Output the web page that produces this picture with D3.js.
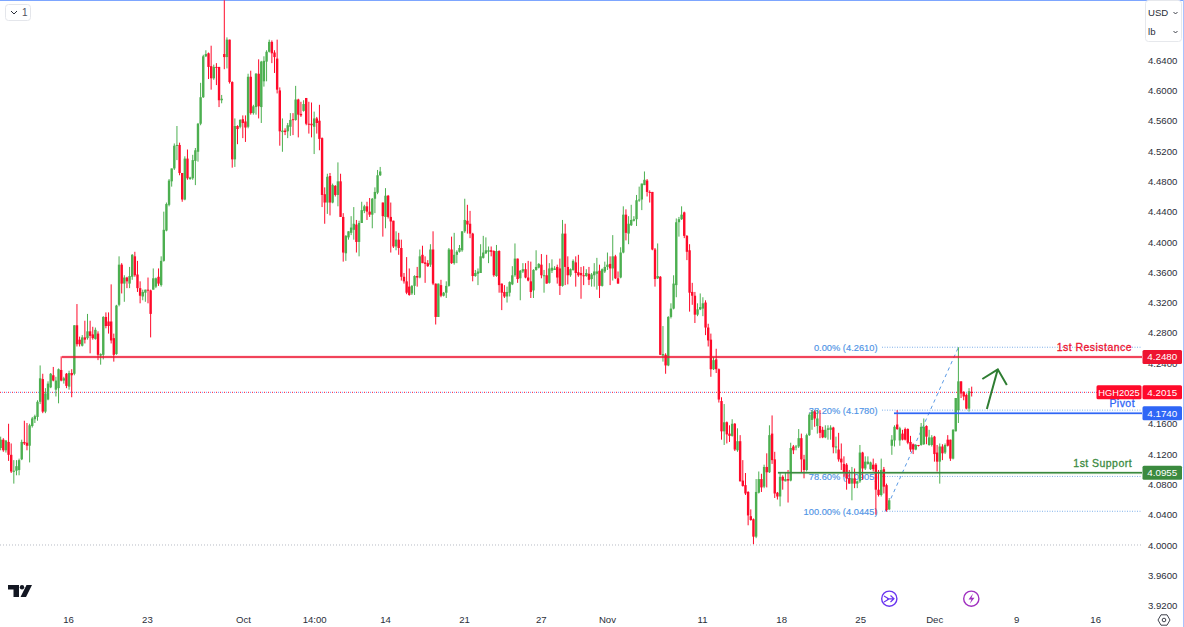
<!DOCTYPE html>
<html>
<head>
<meta charset="utf-8">
<script src="https://cdn.jsdelivr.net/npm/d3@7"></script>
<style>
html, body { margin: 0; padding: 0; background: #fff; }
svg { display: block; font-family: "Liberation Sans", Arial, sans-serif; }
</style>
</head>
<body>
<div id="chart"></div>
<script>
// HGH2025 candles
const open = [
4.128,4.139,4.125,4.136,4.119,4.097,4.098,4.099,4.113,4.136,
4.135,4.131,4.157,4.166,4.169,4.189,4.219,4.176,4.192,4.208,
4.224,4.205,4.207,4.231,4.217,4.226,4.209,4.227,4.226,4.290,
4.271,4.263,4.274,4.273,4.282,4.278,4.272,4.279,4.250,4.251,
4.301,4.295,4.295,4.273,4.252,4.317,4.370,4.345,4.353,4.345,
4.354,4.381,4.357,4.339,4.328,4.333,4.337,4.336,4.337,4.341,
4.354,4.343,4.375,4.415,4.449,4.480,4.497,4.527,4.528,4.491,
4.456,4.510,4.483,4.484,4.507,4.519,4.556,4.591,4.645,4.649,
4.632,4.616,4.631,4.631,4.587,4.648,4.644,4.667,4.611,4.509,
4.553,4.552,4.562,4.559,4.552,4.618,4.570,4.578,4.622,4.578,
4.612,4.638,4.651,4.664,4.650,4.642,4.600,4.545,4.547,4.546,
4.552,4.562,4.561,4.588,4.569,4.573,4.590,4.556,4.556,4.552,
4.563,4.560,4.537,4.463,4.452,4.487,4.452,4.474,4.462,4.480,
4.433,4.385,4.406,4.412,4.416,4.423,4.400,4.425,4.441,4.447,
4.440,4.436,4.457,4.465,4.488,4.452,4.433,4.461,4.433,4.428,
4.394,4.403,4.392,4.354,4.348,4.341,4.332,4.342,4.355,4.353,
4.383,4.373,4.372,4.370,4.390,4.345,4.301,4.343,4.329,4.333,
4.342,4.390,4.372,4.383,4.387,4.389,4.414,4.428,4.424,4.411,
4.355,4.358,4.359,4.379,4.385,4.387,4.389,4.388,4.355,4.388,
4.345,4.334,4.328,4.333,4.344,4.356,4.378,4.352,4.361,4.364,
4.353,4.348,4.336,4.363,4.366,4.370,4.355,4.356,4.346,4.362,
4.363,4.367,4.365,4.342,4.411,4.367,4.356,4.363,4.373,4.360,
4.359,4.356,4.355,4.358,4.351,4.356,4.358,4.362,4.342,4.361,
4.367,4.371,4.365,4.381,4.352,4.353,4.386,4.436,4.411,4.422,
4.428,4.430,4.455,4.456,4.475,4.481,4.466,4.466,4.390,4.352,
4.354,4.250,4.251,4.237,4.301,4.312,4.343,4.426,4.430,4.439,
4.408,4.389,4.334,4.329,4.304,4.311,4.312,4.320,4.287,4.271,
4.232,4.245,4.232,4.190,4.150,4.162,4.147,4.144,4.160,4.125,
4.137,4.085,4.079,4.070,4.038,4.034,4.011,4.069,4.087,4.077,
4.103,4.096,4.147,4.113,4.069,4.064,4.090,4.084,4.087,4.085,
4.130,4.129,4.130,4.141,4.113,4.099,4.145,4.165,4.176,4.157,
4.157,4.152,4.142,4.152,4.152,4.155,4.129,4.126,4.114,4.107,
4.106,4.088,4.081,4.088,4.081,4.084,4.122,4.101,4.107,4.100,
4.106,4.106,4.073,4.066,4.100,4.079,4.047,4.131,4.138,4.159,
4.138,4.147,4.153,4.153,4.136,4.133,4.126,4.132,4.132,4.133,
4.157,4.132,4.132,4.143,4.122,4.110,4.130,4.122,4.139,4.139,
4.114,4.150,4.178,4.216,4.202,4.198,4.180,4.202
];
const high = [
4.143,4.141,4.138,4.160,4.134,4.112,4.112,4.114,4.139,4.164,
4.161,4.160,4.169,4.172,4.191,4.237,4.226,4.207,4.216,4.227,
4.235,4.222,4.233,4.249,4.222,4.227,4.230,4.232,4.290,4.318,
4.275,4.277,4.296,4.305,4.296,4.288,4.287,4.282,4.253,4.302,
4.307,4.307,4.344,4.279,4.317,4.381,4.372,4.356,4.354,4.367,
4.384,4.387,4.375,4.348,4.337,4.337,4.353,4.337,4.365,4.353,
4.365,4.381,4.440,4.452,4.483,4.497,4.530,4.553,4.531,4.491,
4.513,4.522,4.486,4.515,4.524,4.557,4.610,4.647,4.653,4.650,
4.659,4.634,4.636,4.631,4.594,4.719,4.670,4.667,4.612,4.563,
4.554,4.562,4.567,4.567,4.622,4.626,4.581,4.623,4.641,4.639,
4.645,4.653,4.667,4.666,4.653,4.667,4.604,4.563,4.550,4.557,
4.570,4.570,4.606,4.589,4.585,4.587,4.590,4.585,4.584,4.572,
4.565,4.581,4.538,4.472,4.490,4.491,4.477,4.475,4.505,4.490,
4.438,4.409,4.414,4.434,4.446,4.429,4.428,4.453,4.449,4.453,
4.458,4.458,4.472,4.495,4.499,4.452,4.471,4.462,4.452,4.428,
4.414,4.412,4.403,4.359,4.380,4.365,4.343,4.356,4.367,4.390,
4.395,4.381,4.376,4.397,4.414,4.345,4.345,4.350,4.334,4.348,
4.392,4.407,4.412,4.389,4.396,4.414,4.457,4.449,4.441,4.412,
4.363,4.365,4.397,4.408,4.406,4.394,4.394,4.389,4.396,4.389,
4.345,4.343,4.341,4.348,4.368,4.398,4.378,4.363,4.372,4.372,
4.375,4.374,4.364,4.389,4.372,4.384,4.363,4.383,4.372,4.377,
4.368,4.370,4.378,4.429,4.424,4.381,4.365,4.377,4.381,4.383,
4.367,4.368,4.364,4.367,4.359,4.372,4.379,4.370,4.365,4.374,
4.386,4.381,4.409,4.383,4.361,4.393,4.447,4.443,4.434,4.449,
4.434,4.462,4.473,4.477,4.493,4.483,4.468,4.466,4.392,4.398,
4.355,4.289,4.253,4.302,4.319,4.356,4.431,4.433,4.447,4.440,
4.409,4.397,4.346,4.334,4.319,4.332,4.327,4.323,4.292,4.279,
4.248,4.259,4.233,4.195,4.186,4.163,4.158,4.166,4.161,4.154,
4.145,4.112,4.095,4.071,4.047,4.035,4.087,4.097,4.094,4.106,
4.121,4.158,4.171,4.123,4.070,4.096,4.092,4.095,4.099,4.135,
4.132,4.132,4.153,4.147,4.119,4.147,4.174,4.178,4.178,4.178,
4.178,4.156,4.158,4.158,4.158,4.156,4.143,4.148,4.134,4.117,
4.108,4.099,4.103,4.101,4.085,4.132,4.123,4.117,4.117,4.110,
4.114,4.108,4.099,4.114,4.103,4.081,4.062,4.145,4.158,4.178,
4.156,4.152,4.155,4.154,4.144,4.134,4.133,4.132,4.161,4.167,
4.158,4.152,4.145,4.144,4.132,4.134,4.133,4.134,4.145,4.139,
4.153,4.194,4.261,4.216,4.203,4.200,4.207,4.209
];
const low = [
4.125,4.123,4.122,4.111,4.095,4.081,4.092,4.092,4.112,4.132,
4.125,4.109,4.155,4.161,4.164,4.186,4.174,4.174,4.191,4.207,
4.216,4.196,4.187,4.216,4.213,4.207,4.205,4.195,4.224,4.262,
4.262,4.262,4.266,4.271,4.253,4.271,4.271,4.244,4.238,4.245,
4.286,4.279,4.266,4.242,4.251,4.315,4.332,4.321,4.339,4.339,
4.350,4.354,4.334,4.319,4.323,4.321,4.319,4.274,4.337,4.339,
4.342,4.341,4.374,4.414,4.447,4.473,4.495,4.508,4.488,4.453,
4.455,4.482,4.482,4.482,4.475,4.506,4.554,4.590,4.644,4.615,
4.601,4.614,4.607,4.578,4.583,4.628,4.629,4.609,4.498,4.499,
4.529,4.550,4.537,4.532,4.550,4.568,4.568,4.568,4.563,4.557,
4.605,4.612,4.650,4.636,4.623,4.596,4.527,4.519,4.541,4.537,
4.540,4.541,4.560,4.538,4.565,4.572,4.554,4.543,4.538,4.516,
4.543,4.521,4.446,4.424,4.437,4.435,4.451,4.460,4.447,4.433,
4.374,4.375,4.403,4.409,4.403,4.386,4.381,4.425,4.438,4.429,
4.433,4.418,4.438,4.463,4.487,4.407,4.418,4.431,4.386,4.392,
4.389,4.383,4.349,4.345,4.331,4.329,4.330,4.330,4.341,4.352,
4.372,4.346,4.367,4.367,4.343,4.291,4.301,4.327,4.328,4.326,
4.341,4.371,4.370,4.372,4.386,4.387,4.412,4.411,4.405,4.348,
4.354,4.343,4.359,4.378,4.384,4.372,4.381,4.354,4.354,4.333,
4.310,4.326,4.320,4.328,4.343,4.354,4.346,4.323,4.359,4.352,
4.348,4.326,4.326,4.362,4.365,4.352,4.333,4.345,4.345,4.359,
4.363,4.345,4.330,4.341,4.343,4.344,4.354,4.362,4.341,4.354,
4.325,4.343,4.354,4.343,4.341,4.341,4.337,4.326,4.341,4.359,
4.363,4.343,4.349,4.351,4.345,4.352,4.385,4.402,4.397,4.421,
4.427,4.421,4.453,4.442,4.475,4.460,4.452,4.389,4.341,4.351,
4.251,4.242,4.226,4.236,4.299,4.311,4.327,4.407,4.429,4.405,
4.376,4.308,4.317,4.293,4.302,4.310,4.302,4.277,4.262,4.222,
4.231,4.227,4.188,4.139,4.132,4.134,4.136,4.143,4.124,4.123,
4.084,4.077,4.066,4.026,4.032,4.001,4.009,4.068,4.070,4.075,
4.076,4.095,4.107,4.062,4.060,4.051,4.073,4.084,4.056,4.084,
4.120,4.125,4.128,4.095,4.088,4.097,4.144,4.152,4.156,4.147,
4.141,4.141,4.141,4.139,4.139,4.121,4.121,4.110,4.099,4.090,
4.073,4.081,4.059,4.075,4.075,4.082,4.086,4.099,4.106,4.099,
4.097,4.040,4.064,4.064,4.068,4.044,4.046,4.119,4.130,4.152,
4.131,4.138,4.138,4.133,4.123,4.120,4.125,4.130,4.131,4.132,
4.133,4.131,4.130,4.110,4.097,4.081,4.112,4.120,4.130,4.111,
4.113,4.150,4.161,4.194,4.191,4.179,4.176,4.196
];
const close = [
4.139,4.125,4.138,4.119,4.097,4.098,4.104,4.112,4.136,4.134,
4.131,4.158,4.167,4.170,4.189,4.220,4.176,4.200,4.213,4.226,
4.217,4.217,4.232,4.217,4.220,4.210,4.227,4.224,4.290,4.265,
4.265,4.274,4.271,4.282,4.276,4.273,4.284,4.251,4.252,4.301,
4.289,4.289,4.270,4.251,4.316,4.370,4.345,4.353,4.348,4.355,
4.383,4.356,4.339,4.329,4.334,4.337,4.336,4.305,4.352,4.352,
4.345,4.375,4.416,4.450,4.481,4.497,4.527,4.528,4.491,4.456,
4.510,4.484,4.485,4.508,4.521,4.556,4.591,4.645,4.648,4.631,
4.616,4.631,4.630,4.587,4.589,4.644,4.667,4.611,4.509,4.553,
4.549,4.561,4.557,4.551,4.618,4.570,4.579,4.622,4.579,4.638,
4.639,4.651,4.664,4.649,4.644,4.601,4.546,4.547,4.545,4.554,
4.561,4.561,4.588,4.568,4.567,4.582,4.556,4.555,4.554,4.563,
4.557,4.536,4.462,4.452,4.486,4.452,4.475,4.462,4.480,4.433,
4.386,4.408,4.414,4.419,4.424,4.400,4.425,4.442,4.447,4.440,
4.436,4.457,4.466,4.488,4.493,4.434,4.461,4.433,4.427,4.394,
4.403,4.392,4.354,4.348,4.333,4.330,4.342,4.355,4.353,4.381,
4.372,4.371,4.368,4.390,4.345,4.301,4.345,4.329,4.333,4.342,
4.390,4.372,4.383,4.387,4.392,4.414,4.429,4.423,4.411,4.355,
4.359,4.361,4.381,4.386,4.389,4.389,4.387,4.356,4.388,4.343,
4.333,4.328,4.334,4.347,4.356,4.378,4.351,4.362,4.364,4.353,
4.349,4.334,4.363,4.367,4.371,4.356,4.356,4.345,4.365,4.366,
4.365,4.353,4.342,4.411,4.367,4.356,4.364,4.375,4.359,4.356,
4.356,4.355,4.359,4.350,4.357,4.361,4.361,4.342,4.364,4.367,
4.370,4.365,4.381,4.352,4.345,4.386,4.436,4.412,4.424,4.429,
4.430,4.455,4.456,4.477,4.482,4.466,4.465,4.390,4.351,4.355,
4.251,4.252,4.237,4.301,4.312,4.345,4.426,4.430,4.436,4.408,
4.387,4.333,4.329,4.304,4.311,4.314,4.319,4.287,4.270,4.232,
4.244,4.232,4.192,4.150,4.162,4.146,4.144,4.160,4.126,4.137,
4.084,4.078,4.068,4.039,4.033,4.011,4.070,4.087,4.076,4.103,
4.096,4.145,4.112,4.068,4.064,4.090,4.085,4.087,4.085,4.128,
4.125,4.130,4.141,4.113,4.099,4.145,4.172,4.176,4.167,4.167,
4.148,4.142,4.152,4.154,4.155,4.129,4.130,4.113,4.109,4.095,
4.088,4.081,4.088,4.081,4.084,4.122,4.101,4.110,4.110,4.109,
4.100,4.073,4.066,4.099,4.077,4.046,4.059,4.139,4.156,4.153,
4.154,4.139,4.139,4.135,4.126,4.126,4.132,4.131,4.156,4.156,
4.143,4.142,4.142,4.120,4.110,4.130,4.121,4.132,4.131,4.114,
4.152,4.194,4.216,4.200,4.196,4.180,4.203,4.2015
];

const priceTicks = [3.92,3.96,4.00,4.04,4.08,4.12,4.16,4.20,4.24,4.28,4.32,4.36,4.40,4.44,4.48,4.52,4.56,4.60,4.64];
const dateTicks = ["16","23","Oct","14:00","14","21","27","Nov","11","18","25","Dec","9","16"];
const dateTickBars = [25.6,55.6,92.1,119,145.8,175.7,204.8,229.8,265.7,295.4,325.1,352.9,383.7,413.4];

const levelNames = ["1st Resistance","Pivot","1st Support"];
const levelPrices = [4.2480,4.1740,4.0955];
const levelStartBars = [23.3,337.8,294.2];

const fibNames = ["0.00%","38.20%","78.60%","100.00%"];
const fibPrices = [4.2610,4.1780,4.0905,4.0445];

const lastPrice = 4.2015;
const symbol = "HGH2025";

const width = 1184, height = 627;
const plotRight = 1142;
const levelColors = ["#ee1430","#2f66f6","#3b8a3f"];
const up = "#4caf50", down = "#ff0a2a", fibBlue = "#4f94e6";

// bars are not quite evenly spaced in the picture, weekend gaps eat a bit
const x = d3.scaleLinear().domain([0, 85, 250, 367]).range([0.67, 224.3, 660.3, 971.7]);
const y = d3.scaleLinear().domain([3.92, 4.64]).range([605.6, 60.1]);

const svg = d3.select("#chart").append("svg")
    .attr("width", width)
    .attr("height", height);

svg.append("rect").attr("width", width).attr("height", height).attr("fill", "#fff");

// frame, the screenshot has a blue edge on top and right
svg.append("line").attr("x1", 0).attr("x2", width).attr("y1", 0.5).attr("y2", 0.5)
    .attr("stroke", "#7da6ff");
svg.append("line").attr("x1", 1183.5).attr("x2", 1183.5).attr("y1", 0).attr("y2", height)
    .attr("stroke", "#a9c3ff");

// 4.0000 dotted line
svg.append("line")
    .attr("x1", 0).attr("x2", plotRight)
    .attr("y1", y(4)).attr("y2", y(4))
    .attr("stroke", "#b8bcc4")
    .attr("stroke-dasharray", "1 2");

// last price line
svg.append("line")
    .attr("x1", 0).attr("x2", 1097)
    .attr("y1", y(lastPrice)).attr("y2", y(lastPrice))
    .attr("stroke", "#6f8df0")
    .attr("stroke-dasharray", "1 3")
    .attr("stroke-dashoffset", 2);
svg.append("line")
    .attr("x1", 0).attr("x2", 1097)
    .attr("y1", y(lastPrice)).attr("y2", y(lastPrice))
    .attr("stroke", down)
    .attr("stroke-dasharray", "1 3");

// fib lines and labels, candles go over them
svg.selectAll(".fib-line")
    .data(fibPrices)
    .enter()
    .append("line")
    .attr("class", "fib-line")
    .attr("x1", 882).attr("x2", plotRight)
    .attr("y1", d => y(d)).attr("y2", d => y(d))
    .attr("stroke", "#7fb0ea")
    .attr("stroke-dasharray", "1 1.5");

svg.selectAll(".fib-label")
    .data(fibPrices)
    .enter()
    .append("text")
    .attr("class", "fib-label")
    .attr("x", 877.5)
    .attr("y", d => y(d) + 3.7)
    .attr("text-anchor", "end")
    .attr("fill", fibBlue)
    .attr("stroke", fibBlue)
    .attr("stroke-width", 0.15)
    .style("font-size", "9.3px")
    .text((d, i) => `${fibNames[i]} (${d.toFixed(4)})`);

// fib trend line
svg.append("line")
    .attr("x1", x(334.5)).attr("y1", y(fibPrices[3]))
    .attr("x2", x(362)).attr("y2", y(fibPrices[0]))
    .attr("stroke", "#5a9ae6")
    .attr("stroke-dasharray", "3.5 3.5");

// candles
const bars = d3.range(open.length);

svg.append("g").selectAll("line")
    .data(bars)
    .enter()
    .append("line")
    .attr("x1", d => x(d)).attr("x2", d => x(d))
    .attr("y1", d => y(high[d])).attr("y2", d => y(low[d]))
    .attr("stroke", d => close[d] >= open[d] ? up : down)
    .attr("stroke-width", 1);

svg.append("g").selectAll("rect")
    .data(bars)
    .enter()
    .append("rect")
    .attr("x", d => x(d) - 1.2)
    .attr("width", 2.4)
    .attr("y", d => y(Math.max(open[d], close[d])))
    .attr("height", d => Math.max(1, Math.abs(y(open[d]) - y(close[d]))))
    .attr("fill", d => close[d] >= open[d] ? up : down);

// horizontal levels
svg.selectAll(".level-halo")
    .data(levelPrices)
    .enter()
    .append("line")
    .attr("class", "level-halo")
    .attr("x1", (d, i) => x(levelStartBars[i])).attr("x2", plotRight)
    .attr("y1", d => y(d)).attr("y2", d => y(d))
    .attr("stroke", (d, i) => levelColors[i])
    .attr("stroke-opacity", 0.2)
    .attr("stroke-width", 3);

svg.selectAll(".level-line")
    .data(levelPrices)
    .enter()
    .append("line")
    .attr("class", "level-line")
    .attr("x1", (d, i) => x(levelStartBars[i])).attr("x2", plotRight)
    .attr("y1", d => y(d)).attr("y2", d => y(d))
    .attr("stroke", (d, i) => levelColors[i])
    .attr("stroke-width", 1.5);

svg.selectAll(".level-label")
    .data(levelPrices)
    .enter()
    .append("text")
    .attr("class", "level-label")
    .attr("x", (d, i) => i == 1 ? 1135 : 1132)
    .attr("y", d => y(d) - 6)
    .attr("text-anchor", "end")
    .attr("fill", (d, i) => levelColors[i])
    .attr("stroke", (d, i) => levelColors[i])
    .attr("stroke-width", 0.3)
    .style("font-size", "10.5px")
    .style("letter-spacing", "0.45px")
    .text((d, i) => levelNames[i]);

// hand drawn arrow
const arrowBars = [372.7, 376.8];
const arrowPrices = [4.1795, 4.2319];
const headBars = [371, 376.8, 380.2];
const headPrices = [4.2191, 4.2319, 4.2112];
const arrowLine = d3.line().x(d => x(d[0])).y(d => y(d[1]));
svg.append("path")
    .attr("d", arrowLine(d3.zip(arrowBars, arrowPrices)))
    .attr("fill", "none").attr("stroke", "#2e7d32").attr("stroke-width", 2);
svg.append("path")
    .attr("d", arrowLine(d3.zip(headBars, headPrices)))
    .attr("fill", "none").attr("stroke", "#2e7d32").attr("stroke-width", 2);

// axes
const yAxis = svg.append("g")
    .attr("transform", "translate(1143,0)")
    .call(d3.axisRight(y).tickValues(priceTicks).tickSize(0).tickPadding(5).tickFormat(d => d.toFixed(4)));
yAxis.select(".domain").remove();
yAxis.selectAll("text").attr("fill", "#2a2e39").style("font-size", "9.6px").style("font-family", "Liberation Sans");

const xAxis = svg.append("g")
    .attr("transform", "translate(0,616)")
    .call(d3.axisBottom(x).tickValues(dateTickBars).tickSize(0).tickPadding(0).tickFormat((d, i) => dateTicks[i]));
xAxis.select(".domain").remove();
xAxis.selectAll("text").attr("fill", "#2a2e39").style("font-size", "9.6px").style("font-family", "Liberation Sans");

// price tags
function tag(x0, w, price, color, label, size) {
    svg.append("rect")
        .attr("x", x0).attr("width", w)
        .attr("y", y(price) - 7).attr("height", 14)
        .attr("rx", 1.5)
        .attr("fill", color);
    svg.append("text")
        .attr("x", x0 + w / 2)
        .attr("y", y(price) + 3.4)
        .attr("text-anchor", "middle")
        .attr("fill", "#fff")
        .style("font-size", size + "px")
        .text(label);
}
levelPrices.forEach((p, i) => tag(1142.5, 39.5, p, levelColors[i], p.toFixed(4), 9.8));
tag(1142.5, 39.5, lastPrice, down, lastPrice.toFixed(4), 9.8);
tag(1096.5, 45, lastPrice, down, symbol, 9.3);

// top left legend toggle
svg.append("rect")
    .attr("x", 5.5).attr("y", 4.5).attr("width", 25).attr("height", 16).attr("rx", 3)
    .attr("fill", "#fff").attr("stroke", "#e4e6eb");
svg.append("path")
    .attr("d", "M11 11 L14 14 L17 11")
    .attr("fill", "none").attr("stroke", "#2a2e39");
svg.append("text").attr("x", 22).attr("y", 16).attr("fill", "#50535e").style("font-size", "10px").text("1");

// currency and unit box
svg.append("rect")
    .attr("x", 1145.5).attr("y", 0.5).attr("width", 36).attr("height", 41).attr("rx", 3)
    .attr("fill", "#fff").attr("stroke", "#e6e8ec");
[["USD", 16], ["lb", 35]].forEach(d => {
    svg.append("text").attr("x", 1148).attr("y", d[1]).attr("fill", "#2a2e39").style("font-size", "9.6px").text(d[0]);
    svg.append("path")
        .attr("d", `M1173.5 ${d[1] - 4} L1175.5 ${d[1] - 2} L1177.5 ${d[1] - 4}`)
        .attr("fill", "none").attr("stroke", "#2a2e39").attr("stroke-width", 0.9);
});

// TradingView mark
svg.append("path")
    .attr("fill", "#131722")
    .attr("d", "M8 585 H19 V597 H13.5 V589.5 H8 Z M26.5 585 H32 L26 597 H20.5 Z");
svg.append("circle").attr("cx", 22).attr("cy", 587.3).attr("r", 2.2).attr("fill", "#131722");

// event icons
svg.append("circle").attr("cx", 889.3).attr("cy", 598.7).attr("r", 7.6)
    .attr("fill", "#fff").attr("stroke", "#6a35f0").attr("stroke-width", 1.4);
svg.append("path")
    .attr("d", "M884 596 L889 599 L884 602 M887 598.8 H894 M890.5 595.5 L894 598.8 L890.5 602")
    .attr("fill", "none").attr("stroke", "#6a35f0").attr("stroke-width", 1.2);
svg.append("circle").attr("cx", 971.3).attr("cy", 598.7).attr("r", 7.6)
    .attr("fill", "#fff").attr("stroke", "#a030c0").attr("stroke-width", 1.4);
svg.append("path")
    .attr("d", "M973 593.5 L968.5 599.5 H971.5 L969.8 603.8 L974.5 597.8 H971.5 Z")
    .attr("fill", "#a030c0");

// settings hexagon
svg.append("path")
    .attr("d", "M1158 620 L1161 614.8 H1167 L1170 620 L1167 625.2 H1161 Z")
    .attr("fill", "none").attr("stroke", "#2a2e39").attr("stroke-width", 0.9);
svg.append("circle").attr("cx", 1164).attr("cy", 620).attr("r", 1.8)
    .attr("fill", "none").attr("stroke", "#2a2e39").attr("stroke-width", 0.9);
</script>
</body>
</html>
